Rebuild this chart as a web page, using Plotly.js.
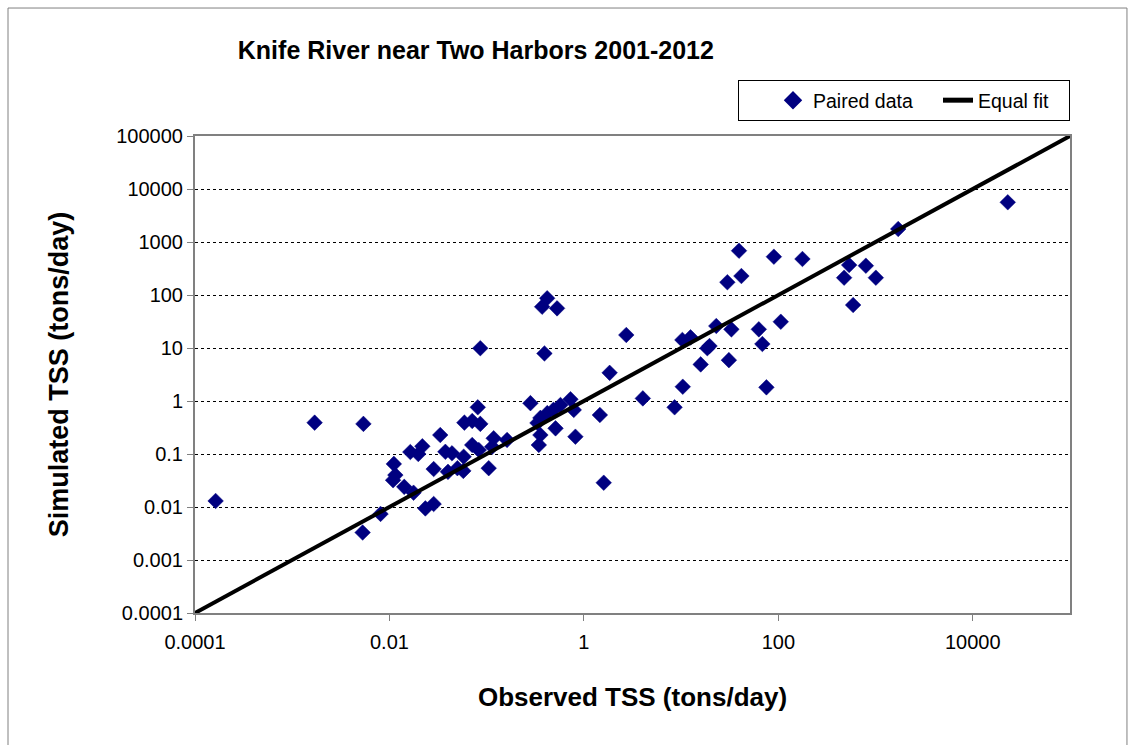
<!DOCTYPE html>
<html>
<head>
<meta charset="utf-8">
<script src="https://cdn.plot.ly/plotly-3.0.1.min.js"></script>
<style>
html,body{margin:0;padding:0;background:#fff;}
#chart{width:1129px;height:745px;}
</style>
</head>
<body>
<div id="chart"></div>
<script>
// Observed TSS (tons/day)
const observedTSS = [
  0.000163, 0.0017, 0.0054, 0.0053, 0.0081, 0.0111, 0.0115, 0.0109, 0.0142, 0.0177,
  0.0164, 0.0198, 0.0218, 0.0234, 0.0285, 0.0285, 0.0333, 0.0376, 0.044, 0.058,
  0.040, 0.050, 0.0575, 0.059, 0.071, 0.086, 0.081, 0.071, 0.083, 0.105,
  0.114, 0.118, 0.162, 0.086, 0.282, 0.333, 0.357, 0.42, 0.486, 0.574,
  0.728, 0.787, 0.511, 0.357, 0.344, 0.818, 1.46, 1.84, 1.60, 0.419,
  0.372, 0.53, 0.393, 2.73, 4.04, 8.57, 10.4, 10.3, 12.5, 15.9,
  18.6, 19.6, 23, 31, 32.9, 29.9, 41.7, 39.4, 90, 63,
  68.5, 75.4, 106, 177, 535, 795, 475, 1007, 588, 1710,
  22900
];
// Simulated TSS (tons/day)
const simulatedTSS = [
  0.013, 0.39, 0.37, 0.0033, 0.0074, 0.065, 0.040, 0.032, 0.024, 0.0186,
  0.109, 0.10, 0.14, 0.0094, 0.0114, 0.052, 0.228, 0.110, 0.103, 0.089,
  0.046, 0.054, 0.048, 0.39, 0.42, 0.37, 0.76, 0.148, 0.119, 0.054,
  0.137, 0.198, 0.184, 9.9, 0.91, 0.385, 0.48, 0.59, 0.68, 0.84,
  1.08, 0.68, 0.305, 0.228, 0.148, 0.212, 0.545, 3.4, 0.0287, 86.7,
  60, 56, 7.9, 17.6, 1.12, 0.76, 1.86, 14.2, 15.9, 4.9,
  9.9, 10.9, 26, 5.9, 22.5, 174, 228, 685, 528, 22.5,
  11.9, 1.81, 31.3, 478, 368, 357, 212, 212, 64.7, 1758,
  5610
];
// Equal fit (1:1) line end points
const equalFitX = [0.0001, 100000];
const equalFitY = [0.0001, 100000];

// Tick labels
const xTickVals = [0.0001, 0.01, 1, 100, 10000];
const xTickText = ["0.0001", "0.01", "1", "100", "10000"];
const yTickVals = [0.0001, 0.001, 0.01, 0.1, 1, 10, 100, 1000, 10000, 100000];
const yTickText = ["0.0001", "0.001", "0.01", "0.1", "1", "10", "100", "1000", "10000", "100000"];

const FONT = "Liberation Sans, Arial, Helvetica, sans-serif";

const traces = [
  {
    x: observedTSS, y: simulatedTSS, type: "scatter", mode: "markers",
    name: "Paired data",
    marker: {symbol: "diamond", size: 12, color: "#000080", line: {color: "#000080", width: 0.5}}
  },
  {
    x: equalFitX, y: equalFitY, type: "scatter", mode: "lines",
    name: "Equal fit",
    line: {color: "#000000", width: 4}
  }
];

const layout = {
  width: 1129, height: 745,
  margin: {l: 195, r: 59, t: 136, b: 132},
  paper_bgcolor: "#ffffff", plot_bgcolor: "#ffffff",
  font: {family: FONT, color: "#000000", size: 20},
  title: {
    text: "<b>Knife River near Two Harbors 2001-2012</b>",
    font: {family: FONT, size: 25, color: "#000000"},
    xref: "container", yref: "container",
    x: 0.4215, xanchor: "center", y: 0.933, yanchor: "middle"
  },
  showlegend: true,
  legend: {
    orientation: "h",
    x: 1, xanchor: "right", y: 1.1174, yanchor: "top",
    bordercolor: "#000000", borderwidth: 1, bgcolor: "#ffffff",
    font: {family: FONT, size: 19.5, color: "#000000"},
    indentation: 34,
    entrywidth: 86,
    itemsizing: "constant"
  },
  xaxis: {
    type: "log", range: [-4, 5],
    tickvals: xTickVals, ticktext: xTickText,
    showgrid: false, zeroline: false,
    showline: true, mirror: true, linecolor: "#808080", linewidth: 2,
    ticks: "outside", ticklen: 6, tickcolor: "#808080", tickwidth: 1,
    ticklabelstandoff: 4,
    tickfont: {family: FONT, size: 20},
    title: {text: "<b>Observed TSS (tons/day)</b>", font: {family: FONT, size: 26}, standoff: 36},
    automargin: false
  },
  yaxis: {
    type: "log", range: [-4, 5],
    tickvals: yTickVals, ticktext: yTickText,
    showgrid: true, gridcolor: "#000000", gridwidth: 1, griddash: "dot",
    zeroline: false,
    showline: true, mirror: true, linecolor: "#808080", linewidth: 2,
    ticks: "outside", ticklen: 6, tickcolor: "#808080", tickwidth: 1,
    tickfont: {family: FONT, size: 20},
    title: {text: "<b>Simulated TSS (tons/day)</b>", font: {family: FONT, size: 27}, standoff: 40},
    automargin: false
  },
  shapes: [
    {type: "rect", xref: "paper", yref: "paper",
     x0: -0.2137, x1: 1.0651, y0: -0.29, y1: 1.2683,
     line: {color: "#808080", width: 1}, fillcolor: "rgba(0,0,0,0)", layer: "below"}
  ]
};

Plotly.newPlot("chart", traces, layout, {displayModeBar: false, staticPlot: true});
</script>
</body>
</html>
